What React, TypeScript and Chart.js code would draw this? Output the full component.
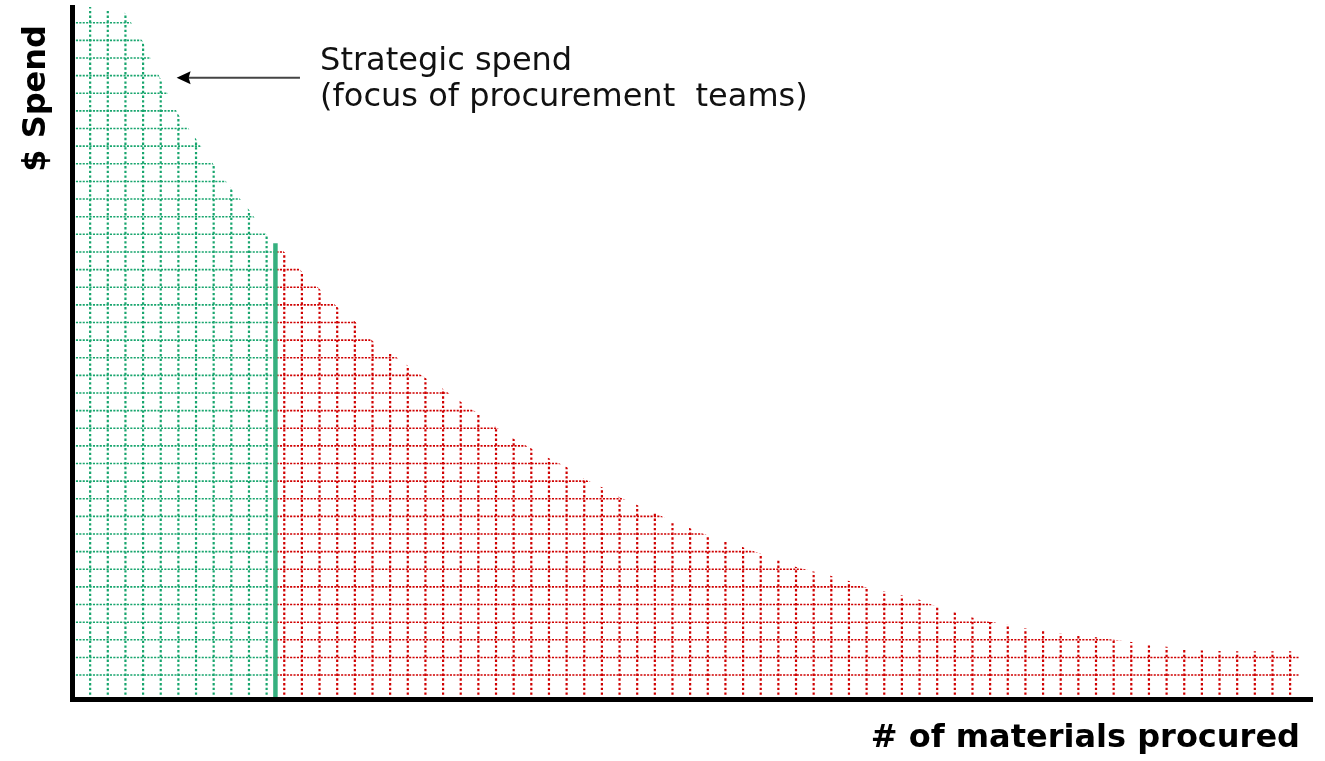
import React, { useEffect, useRef } from 'react';
import { Chart, registerables } from 'chart.js';

Chart.register(...registerables);

// Material position along the x axis (one grid column per material)
const materialPosition = [
  0, 1, 2, 3, 4, 5, 6, 7, 8, 9,
  10, 11, 12, 13, 14, 15, 16, 17, 18, 19,
  20, 21, 22, 23, 24, 25, 26, 27, 28, 29,
  30, 31, 32, 33, 34, 35, 36, 37, 38, 39,
  40, 41, 42, 43, 44, 45, 46, 47, 48, 49,
  50, 51, 52, 53, 54, 55, 56, 57, 58, 59,
  60, 61, 62, 63, 64, 65, 66, 67, 68, 69, 69.5,
];

// Spend curve (in grid rows)
const spendCurve = [
  39.3, 38.9, 38.7, 38.55, 36.9, 34.8, 32.8, 31.4, 29.95, 28.6,
  27.4, 25.95, 24.98, 23.88, 22.9, 21.88, 21.05, 19.95, 19.3, 18.55,
  17.85, 17.22, 16.5, 15.82, 15.05, 14.4, 13.85, 13.3, 12.8, 12.12,
  11.65, 11.08, 10.65, 10.22, 9.68, 9.33, 8.92, 8.62, 8.25, 7.88,
  7.54, 7.13, 6.88, 6.62, 6.33, 5.95, 5.75, 5.52, 5.27, 4.87,
  4.57, 4.27, 4.02, 3.85, 3.64, 3.6, 3.35, 3.33, 3.15, 3.0,
  2.88, 2.78, 2.6, 2.5, 2.4, 2.36, 2.35, 2.35, 2.35, 2.35, 2.35,
];

const strategicSplit = [11.5];
const strategicLineTop = [25.5];

const xRange = [0, 70.24];
const yRange = [-0.386, 38.894];

const xAxisTitle = '# of materials procured';
const yAxisTitle = '$ Spend';
const noteLines = ['Strategic spend', '(focus of procurement  teams)'];
const noteAnchor = [14.03, 35.32];
const noteLineStep = [2.04];
const arrowTail = [12.89, 34.88];
const arrowTip = [5.9, 34.88];

const GREEN_DOT = '#17a56d';
const RED_DOT = '#cf0000';
const GREEN_LINE = '#36b07f';
const FONT = '"DejaVu Sans", sans-serif';

const dottedCells = {
  id: 'dottedCells',
  beforeDatasetsDraw(chart: any) {
    const { ctx, chartArea, scales } = chart;
    const xs = scales.x;
    const ys = scales.y;
    const pts = chart.getDatasetMeta(0).data;
    if (!pts || !pts.length) return;
    const last = pts[pts.length - 1];
    const splitPx = xs.getPixelForValue(strategicSplit[0]);
    const baseY = chartArea.bottom;
    const regions = [
      { from: chartArea.left, to: splitPx, color: GREEN_DOT },
      { from: splitPx, to: last.x, color: RED_DOT },
    ];
    const xTicks = xs.ticks.map((t: any) => t.value).filter((v: number) => Number.isInteger(v) && v > 0);
    const yTicks = ys.ticks.map((t: any) => t.value).filter((v: number) => Number.isInteger(v) && v >= 0);
    for (const r of regions) {
      ctx.save();
      ctx.beginPath();
      ctx.rect(r.from, chartArea.top, r.to - r.from, chartArea.bottom - chartArea.top);
      ctx.clip();
      ctx.beginPath();
      ctx.moveTo(pts[0].x, baseY);
      for (const p of pts) ctx.lineTo(p.x, p.y);
      ctx.lineTo(last.x, baseY);
      ctx.closePath();
      ctx.clip();
      ctx.strokeStyle = r.color;
      // vertical cell lines
      ctx.lineWidth = 2.2;
      ctx.setLineDash([2.4, 2.3]);
      for (const v of xTicks) {
        const px = xs.getPixelForValue(v);
        ctx.beginPath();
        ctx.moveTo(px, baseY);
        ctx.lineTo(px, chartArea.top);
        ctx.stroke();
      }
      // horizontal cell lines
      ctx.lineWidth = 1.6;
      ctx.setLineDash([2.1, 1.3]);
      for (const v of yTicks) {
        const py = ys.getPixelForValue(v);
        ctx.beginPath();
        ctx.moveTo(chartArea.left, py);
        ctx.lineTo(chartArea.right, py);
        ctx.stroke();
      }
      ctx.restore();
    }
  },
  afterDraw(chart: any) {
    const { ctx, chartArea, scales } = chart;
    const xs = scales.x;
    const ys = scales.y;
    ctx.save();
    // axis titles
    ctx.fillStyle = '#000';
    ctx.font = `bold 32px ${FONT}`;
    ctx.textBaseline = 'alphabetic';
    ctx.textAlign = 'right';
    ctx.fillText(xAxisTitle, chartArea.right - 12, chartArea.bottom + 47);
    ctx.save();
    ctx.translate(chartArea.left - 28, chartArea.top + 18);
    ctx.rotate(-Math.PI / 2);
    ctx.textAlign = 'right';
    ctx.fillText(yAxisTitle, 0, 0);
    ctx.restore();
    // annotation
    ctx.font = `32px ${FONT}`;
    ctx.textAlign = 'left';
    ctx.fillStyle = '#111';
    noteLines.forEach((line, i) => {
      ctx.fillText(
        line,
        xs.getPixelForValue(noteAnchor[0]),
        ys.getPixelForValue(noteAnchor[1] - i * noteLineStep[0])
      );
    });
    // arrow
    const tx = xs.getPixelForValue(arrowTip[0]);
    const ty = ys.getPixelForValue(arrowTip[1]);
    const sx = xs.getPixelForValue(arrowTail[0]);
    const sy = ys.getPixelForValue(arrowTail[1]);
    ctx.strokeStyle = '#444';
    ctx.lineWidth = 1.8;
    ctx.beginPath();
    ctx.moveTo(sx, sy);
    ctx.lineTo(tx + 10, ty);
    ctx.stroke();
    ctx.fillStyle = '#000';
    ctx.beginPath();
    ctx.moveTo(tx, ty);
    ctx.lineTo(tx + 14, ty - 6.5);
    ctx.lineTo(tx + 12, ty);
    ctx.lineTo(tx + 14, ty + 6.5);
    ctx.closePath();
    ctx.fill();
    ctx.restore();
  },
};

export default function App() {
  const ref = useRef<HTMLCanvasElement | null>(null);
  useEffect(() => {
    if (!ref.current) return;
    const curve = materialPosition.map((x, i) => ({ x, y: spendCurve[i] }));
    const chart = new Chart(ref.current, {
      type: 'line',
      data: {
        datasets: [
          {
            label: 'Spend',
            data: curve,
            showLine: false,
            pointRadius: 0,
            borderColor: 'rgba(0,0,0,0)',
            backgroundColor: 'rgba(0,0,0,0)',
          },
          {
            label: 'Strategic split',
            data: [
              { x: strategicSplit[0], y: yRange[0] },
              { x: strategicSplit[0], y: strategicLineTop[0] },
            ],
            borderColor: GREEN_LINE,
            borderWidth: 4.5,
            pointRadius: 0,
            fill: false,
          },
        ],
      },
      options: {
        responsive: false,
        devicePixelRatio: 1,
        animation: false,
        events: [],
        layout: { padding: { left: 72.5, top: 7, right: 13, bottom: 61.5 } },
        plugins: { legend: { display: false }, tooltip: { enabled: false } },
        scales: {
          x: {
            type: 'linear',
            min: xRange[0],
            max: xRange[1],
            ticks: { display: false, stepSize: 1 },
            grid: { display: false, drawTicks: false },
            border: { display: true, color: '#000', width: 5, z: 1 },
          },
          y: {
            type: 'linear',
            min: yRange[0],
            max: yRange[1],
            ticks: { display: false, stepSize: 1 },
            grid: { display: false, drawTicks: false },
            border: { display: true, color: '#000', width: 5, z: 1 },
          },
        },
      },
      plugins: [dottedCells],
    });
    return () => chart.destroy();
  }, []);
  return (
    <div style={{ position: 'fixed', left: 0, top: 0, width: 1325, height: 761, background: '#fff' }}>
      <canvas ref={ref} width={1325} height={761} style={{ display: 'block' }} />
    </div>
  );
}
